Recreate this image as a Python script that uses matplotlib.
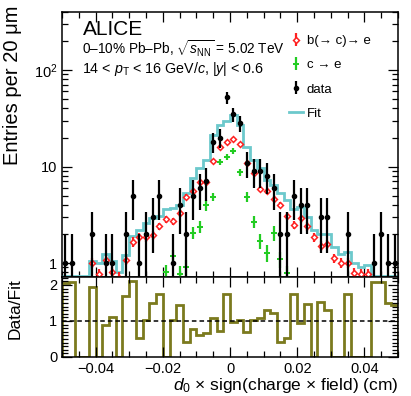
import numpy as np
import matplotlib
matplotlib.use("Agg")
import matplotlib.pyplot as plt
from matplotlib.ticker import FixedLocator, MultipleLocator, NullFormatter
from matplotlib.lines import Line2D

plt.rcParams['font.family'] = ['Liberation Sans', 'DejaVu Sans']
plt.rcParams['mathtext.fontset'] = 'custom'
plt.rcParams['mathtext.rm'] = 'Liberation Sans'
plt.rcParams['mathtext.it'] = 'Liberation Sans:italic'

# binning: 50 bins of 20 um between -0.05 and 0.05 cm
edges = np.linspace(-0.05, 0.05, 51)
centers = 0.5 * (edges[:-1] + edges[1:])

# data counts per bin
data = [1, 1, 0, 0, 2, 0, 1, 1, 0, 2,
        5, 1, 2, 3, 5, 0, 1, 4, 2, 5,
        6, 7, 18, 20, 52, 35, 28, 11, 9, 9,
        8, 6, 2, 2, 5, 4, 4, 0, 3, 3,
        0, 0, 2, 0, 0, 0, 1, 2, 1, 1]

# b(->c)->e template
b_val = [0.45, 0.45, 0.5, 0.6, 1.0, 0.77, 1.07, 0.81, 0.7, 1.07,
         1.66, 1.87, 1.85, 1.95, 2.4, 2.85, 2.7, 3.3, 4.87, 5.6,
         6.85, 6.85, 11.4, 16.0, 18.1, 19.3, 17.0, 10.9, 8.6, 5.8,
         5.6, 4.6, 4.0, 3.1, 2.5, 2.9, 2.4, 1.85, 1.5, 1.57,
         1.12, 1.0, 1.0, 0.79, 0.77, 0.77, 0.6, 0.6, 0.55, 0.55]
b_err = [0.1, 0.1, 0.1, 0.1, 0.12, 0.1, 0.12, 0.1, 0.1, 0.12,
         0.18, 0.2, 0.2, 0.2, 0.22, 0.25, 0.25, 0.28, 0.35, 0.4,
         0.45, 0.45, 0.6, 0.8, 0.9, 0.9, 0.8, 0.6, 0.5, 0.4,
         0.4, 0.35, 0.3, 0.28, 0.25, 0.28, 0.25, 0.2, 0.18, 0.18,
         0.12, 0.12, 0.12, 0.1, 0.1, 0.1, 0.1, 0.1, 0.1, 0.1]

# c->e template
c_val = [0.3, 0.3, 0.3, 0.3, 0.3, 0.3, 0.3, 0.3, 0.3, 0.3,
         0.3, 0.3, 0.4, 0.5, 0.6, 0.81, 1.18, 0.77, 0.9, 2.06,
         2.38, 4.0, 4.87, 11.2, 12.6, 14.6, 8.7, 4.87, 2.68, 1.7,
         1.28, 2.06, 1.09, 0.79, 0.5, 0.4, 0.3, 0.3, 0.3, 0.3,
         0.3, 0.3, 0.3, 0.3, 0.3, 0.3, 0.3, 0.3, 0.3, 0.3]
c_err = [0.05, 0.05, 0.05, 0.05, 0.05, 0.05, 0.05, 0.05, 0.05, 0.05,
         0.05, 0.05, 0.05, 0.08, 0.1, 0.15, 0.2, 0.15, 0.18, 0.3,
         0.35, 0.5, 0.5, 0.9, 0.9, 1.0, 0.8, 0.6, 0.4, 0.3,
         0.25, 0.35, 0.2, 0.15, 0.1, 0.1, 0.05, 0.05, 0.05, 0.05,
         0.05, 0.05, 0.05, 0.05, 0.05, 0.05, 0.05, 0.05, 0.05, 0.05]

# template fit
fit = [0.5, 0.5, 0.6, 0.7, 1.05, 1.0, 1.25, 1.05, 0.8, 1.2,
       1.9, 2.2, 2.6, 2.9, 3.1, 3.6, 3.7, 4.0, 5.3, 7.6,
       9.6, 11.7, 21, 27, 30, 34, 27, 16, 11.7, 9.6,
       7.3, 6.5, 5.3, 4.5, 3.6, 3.8, 3.0, 2.2, 2.0, 2.0,
       1.45, 1.25, 1.3, 1.0, 0.9, 0.95, 0.7, 0.7, 0.7, 0.7]

# Data/Fit
ratio = [2.06, 2.09, 0, 0, 1.93, 0, 0.89, 1.12, 0, 1.68,
         2.1, 0.52, 1.03, 1.49, 1.75, 0, 1.03, 1.44, 0.43, 0.77,
         0.61, 0.66, 1.08, 0.73, 1.75, 0.98, 1.03, 0.70, 1.03, 1.08,
         1.31, 1.21, 0.43, 0.52, 1.75, 0.94, 1.47, 0, 1.54, 1.31,
         0, 0, 1.75, 0, 0, 0, 2.09, 2.09, 1.49, 1.44]

ymin, ymax = 0.716, 400
rmax = 2.22

fig = plt.figure(figsize=(4.11, 3.96), dpi=100)
ax = fig.add_axes([62/411, 119/396, 336/411, 265/396])
axr = fig.add_axes([62/411, 39/396, 336/411, 80/396], sharex=ax)

data = np.array(data, dtype=float)
fit = np.array(fit)

# fit histogram, kept inside the frame like ROOT does
ax.stairs(np.clip(fit, ymin * 1.02, ymax), edges, color='#6cc9cc', lw=2, zorder=2)

c_h = ax.errorbar(centers, c_val, yerr=c_err, fmt='P', color='#22cc22',
                  ms=5, mew=0, elinewidth=1.6, zorder=3)
b_h = ax.errorbar(centers, b_val, yerr=b_err, fmt='D', color='#ff2020', mfc='white',
                  ms=3.0, mew=1.1, elinewidth=1.6, zorder=4)
m = data > 0
d_h = ax.errorbar(centers[m], data[m], yerr=np.sqrt(data[m]), fmt='o', color='black',
                  ms=3, elinewidth=1.6, zorder=5)

ax.set_xlim(-0.05, 0.05)
ax.set_yscale('log')
ax.set_ylim(ymin, ymax)
ax.yaxis.set_major_locator(FixedLocator([1, 10, 100]))
ax.set_yticklabels(['1', '10', r'$10^{2}$'])
ax.yaxis.set_minor_locator(FixedLocator([k * 10**e for e in range(-1, 3) for k in range(2, 10)]))
ax.yaxis.set_minor_formatter(NullFormatter())
ax.set_ylabel('Entries per 20 μm', fontsize=14.5, loc='top')
ax.yaxis.set_label_coords(-0.118, 1.025)
ax.tick_params(labelbottom=False)

for a in (ax, axr):
    a.xaxis.set_major_locator(MultipleLocator(0.02))
    a.xaxis.set_minor_locator(MultipleLocator(0.005))
    a.tick_params(which='both', direction='in', top=True, right=True, labelsize=10.5)
    a.tick_params(which='major', length=7, width=0.9)
    a.tick_params(which='minor', length=4, width=0.9)
    for s in a.spines.values():
        s.set_linewidth(1.1)

ratio_arr = np.clip(np.array(ratio), 0, rmax)
axr.stairs(ratio_arr, edges, color='#7b7a1e', lw=2)
axr.axhline(1, color='black', ls=(0, (3, 2)), lw=1.1)
axr.set_ylim(0, rmax)
axr.yaxis.set_major_locator(FixedLocator([0, 1, 2]))
axr.yaxis.set_minor_locator(MultipleLocator(0.1))
axr.set_ylabel('Data/Fit', fontsize=12.5)
axr.yaxis.set_label_coords(-0.118, 0.6)
axr.set_xticks([-0.04, -0.02, 0, 0.02, 0.04])
axr.set_xticklabels(['\u22120.04', '\u22120.02', '0', '0.02', '0.04'])
axr.set_xlabel(r'$d_0$ $\times$ sign(charge $\times$ field) (cm)', fontsize=12.5,
               loc='right', labelpad=0)

ax.text(0.062, 0.913, 'ALICE', transform=ax.transAxes, fontsize=15, va='baseline')
ax.text(0.06, 0.842, r'0–10% Pb–Pb, $\sqrt{s_{\rm NN}}$ = 5.02 TeV', transform=ax.transAxes,
        fontsize=9.8, va='baseline')
ax.text(0.06, 0.768, r'14 < $p_{\rm T}$ < 16 GeV/$c$, |$y$| < 0.6', transform=ax.transAxes,
        fontsize=10.3, va='baseline')

fit_h = Line2D([], [], color='#6cc9cc', lw=2)
ax.legend([b_h, c_h, d_h, fit_h], ['b(→ c)→ e', 'c → e', 'data', 'Fit'],
          loc='upper left', bbox_to_anchor=(0.677, 0.913), frameon=False, fontsize=9.5,
          handlelength=1.0, handletextpad=0.3, labelspacing=0.9,
          borderpad=0, borderaxespad=0)

fig.savefig('out.png', dpi=100)
